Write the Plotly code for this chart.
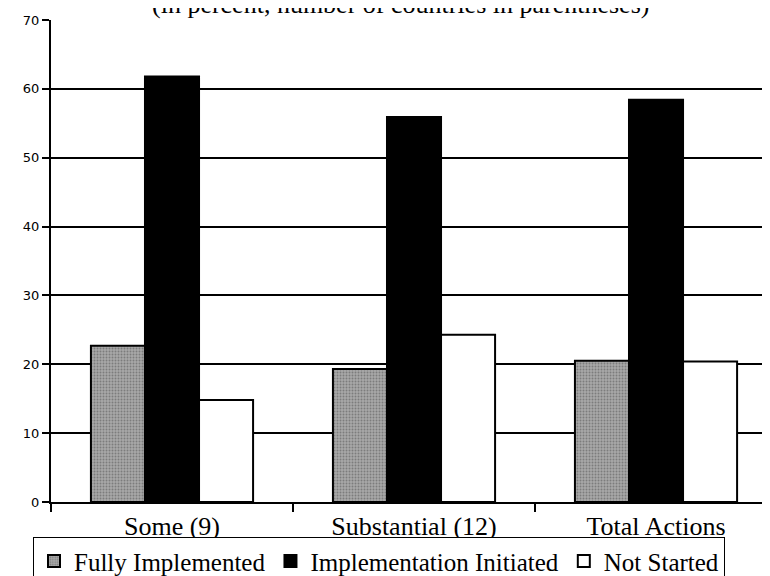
import plotly.graph_objects as go

categories = ["Some (9)", "Substantial (12)", "Total Actions"]
fully_implemented = [22.7, 19.3, 20.5]
implementation_initiated = [61.8, 55.9, 58.4]
not_started = [14.8, 24.3, 20.4]
y_ticks = [0, 10, 20, 30, 40, 50, 60, 70]
subtitle = "(in percent, number of countries in parentheses)"

serif = "Liberation Serif, Times New Roman, serif"

fig = go.Figure()
fig.add_trace(go.Bar(
    name="Fully Implemented", x=categories, y=fully_implemented,
    marker=dict(color="#a8a8a8", line=dict(color="black", width=2),
                pattern=dict(shape=".", fgcolor="#505050", size=3, solidity=0.35)),
))
fig.add_trace(go.Bar(
    name="Implementation Initiated", x=categories, y=implementation_initiated,
    marker=dict(color="black", line=dict(color="black", width=2)),
))
fig.add_trace(go.Bar(
    name="Not Started", x=categories, y=not_started,
    marker=dict(color="white", line=dict(color="black", width=2)),
))

# page body has an 8px default margin; the figure is sized/offset to compensate
fig.update_layout(
    width=762, height=568,
    margin=dict(l=43, r=0, t=12, b=74, autoexpand=False),
    paper_bgcolor="white", plot_bgcolor="white",
    barmode="group", bargap=0.33, bargroupgap=0,
    font=dict(family=serif, color="black", size=26),
    legend=dict(
        orientation="h", x=-0.025, xanchor="left", y=-0.073, yanchor="top",
        bordercolor="black", borderwidth=1, bgcolor="white",
        font=dict(family=serif, size=25, color="black"),
        traceorder="normal",
    ),
    annotations=[dict(
        text=subtitle, xref="paper", yref="paper", x=0.486, y=0.998,
        xanchor="center", yanchor="bottom", showarrow=False,
        font=dict(family=serif, size=26, color="black"),
    )],
)
fig.update_xaxes(
    range=[-0.5, 2.471], showline=True, linecolor="black", linewidth=2,
    ticks="outside", tickson="boundaries", ticklen=8, tickwidth=1.5, tickcolor="black",
    tickfont=dict(family=serif, size=26, color="black"), showgrid=False,
    automargin=False,
)
fig.update_yaxes(
    range=[0, 70], tickvals=y_ticks, showline=True, linecolor="black", linewidth=2,
    ticks="outside", ticklen=7, tickwidth=1.5, tickcolor="black",
    tickfont=dict(family="DejaVu Sans, sans-serif", size=13, color="black"),
    showgrid=True, gridcolor="black", gridwidth=1.5, zeroline=False,
    automargin=False,
)

fig.write_html("out.html")
